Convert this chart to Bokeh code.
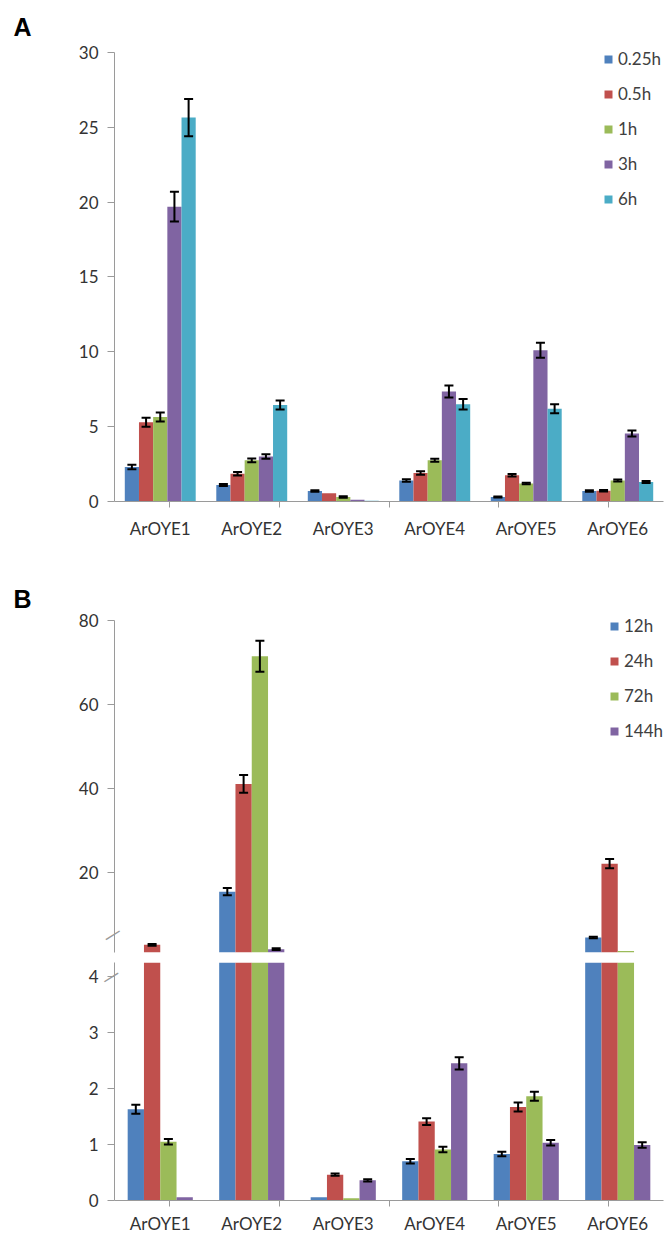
import math
from bokeh.plotting import figure
from bokeh.models import (Range1d, FactorRange, CategoricalAxis, LinearAxis, FixedTicker,
                          ColumnDataSource, Whisker, TeeHead)
from bokeh.transform import dodge
from bokeh.layouts import column
from bokeh.embed import file_html
from bokeh.resources import INLINE

NaN = float("nan")

genes = ["ArOYE1", "ArOYE2", "ArOYE3", "ArOYE4", "ArOYE5", "ArOYE6"]

# ---------------- Panel A ----------------
a_labels = ["0.25h", "0.5h", "1h", "3h", "6h"]
a_025h = [2.3, 1.1, 0.7, 1.4, 0.3, 0.7]
a_025h_err = [0.15, 0.07, 0.05, 0.08, 0.03, 0.05]
a_05h = [5.3, 1.85, 0.55, 1.9, 1.75, 0.72]
a_05h_err = [0.3, 0.12, NaN, 0.12, 0.08, 0.05]
a_1h = [5.65, 2.75, 0.3, 2.75, 1.2, 1.4]
a_1h_err = [0.3, 0.12, 0.05, 0.1, 0.05, 0.07]
a_3h = [19.7, 3.0, 0.12, 7.35, 10.1, 4.55]
a_3h_err = [1.0, 0.15, NaN, 0.4, 0.5, 0.2]
a_6h = [25.65, 6.45, 0.05, 6.5, 6.2, 1.3]
a_6h_err = [1.24, 0.3, NaN, 0.35, 0.3, 0.07]
a_ticks = [0, 5, 10, 15, 20, 25, 30]
A_MAX = 30

# ---------------- Panel B ----------------
b_labels = ["12h", "24h", "72h", "144h"]
# lower segment (0 - 4.25 axis); NaN where the bar is broken (shown in upper segment)
b_12h_low = [1.63, NaN, 0.06, 0.70, 0.83, NaN]
b_12h_low_err = [0.08, NaN, NaN, 0.04, 0.04, NaN]
b_24h_low = [NaN, NaN, 0.46, 1.41, 1.67, NaN]
b_24h_low_err = [NaN, NaN, 0.02, 0.06, 0.08, NaN]
b_72h_low = [1.05, NaN, 0.04, 0.91, 1.86, NaN]
b_72h_low_err = [0.05, NaN, NaN, 0.05, 0.08, NaN]
b_144h_low = [0.06, NaN, 0.36, 2.45, 1.03, 0.99]
b_144h_low_err = [NaN, NaN, 0.02, 0.11, 0.05, 0.05]
# upper segment (20 - 80 axis) values of the broken bars
b_12h_up = [NaN, 15.45, NaN, NaN, NaN, 4.54]
b_12h_up_err = [NaN, 0.85, NaN, NaN, NaN, 0.2]
b_24h_up = [2.8, 41.1, NaN, NaN, NaN, 22.1]
b_24h_up_err = [0.2, 2.1, NaN, NaN, NaN, 1.1]
b_72h_up = [NaN, 71.5, NaN, NaN, NaN, 1.35]
b_72h_up_err = [NaN, 3.7, NaN, NaN, NaN, NaN]
b_144h_up = [NaN, 1.76, NaN, NaN, NaN, NaN]
b_144h_up_err = [NaN, 0.2, NaN, NaN, NaN, NaN]
b_low_ticks = [0, 1, 2, 3, 4]
b_up_ticks = [20, 40, 60, 80]
B_UP_MAX = 80
B_LOW_MAX = 4.25
B_UP_MIN = 0.97

COLORS = ["#4F81BD", "#C0504D", "#9BBB59", "#8064A2", "#4BACC6"]
FONT = "Lato"
AX = "#9a9a9a"
TXT = "#333333"


def make_fig(y0, y1, fh, top, bottom, bounds, ticks, title=""):
    p = figure(x_range=FactorRange(*genes), y_range=Range1d(y0, y1),
               frame_width=549, frame_height=fh,
               min_border_left=114, min_border_right=5,
               min_border_top=top, min_border_bottom=bottom,
               x_axis_location=None, output_backend="svg", toolbar_location=None,
               title=title)
    p.outline_line_color = None
    p.xgrid.visible = False
    p.ygrid.visible = False
    p.background_fill_color = "white"
    p.border_fill_color = "white"
    p.title.align = "left"
    p.title.offset = -101
    p.title.standoff = 0
    p.title.text_font = "Liberation Sans"
    p.title.text_font_style = "bold"
    p.title.text_font_size = "25px"
    p.title.text_color = "black"
    ya = p.yaxis[0]
    ya.bounds = bounds
    ya.ticker = FixedTicker(ticks=ticks)
    ya.axis_line_color = AX
    ya.major_tick_line_color = AX
    ya.major_tick_out = 7
    ya.major_tick_in = 0
    ya.minor_tick_line_color = None
    ya.major_label_standoff = 9
    ya.major_label_text_font = FONT
    ya.major_label_text_font_size = "17px"
    ya.major_label_text_color = TXT
    return p


def add_xaxes(p, standoff):
    # boundary ticks: hidden-label factor axis whose factor centres sit on the
    # category boundaries
    bounds = ["b%d" % i for i in range(len(genes) + 1)]
    p.extra_x_ranges = {"bounds": FactorRange(*bounds, range_padding=-1,
                                              range_padding_units="absolute")}
    t_axis = CategoricalAxis(x_range_name="bounds",
                             major_label_text_font_size="0px", major_label_standoff=0,
                             major_tick_out=6, major_tick_in=0,
                             axis_line_color=AX, major_tick_line_color=AX)
    p.add_layout(t_axis, "below")
    c_axis = CategoricalAxis(axis_line_color=None, major_tick_line_color=None,
                             major_label_standoff=standoff,
                             major_label_text_font=FONT,
                             major_label_text_font_size="17px",
                             major_label_text_color=TXT)
    p.add_layout(c_axis, "below")


def add_break_mark(p, v, angle, standoff):
    # a single slanted dash drawn as the only label of an extra, line-less axis
    ax = LinearAxis(ticker=FixedTicker(ticks=[v]), axis_line_color=None,
                    major_tick_line_color=None, minor_tick_line_color=None,
                    major_tick_out=0, major_tick_in=0,
                    major_label_standoff=standoff, major_label_orientation=angle,
                    major_label_text_font="DejaVu Sans",
                    major_label_text_font_size="18px",
                    major_label_text_color=AX,
                    major_label_overrides={v: "\u2014"})
    p.add_layout(ax, "left")


def add_series(p, vals, errs, color, label, off, width, legend=True):
    src = ColumnDataSource(dict(cat=genes, top=vals))
    kw = dict(legend_label=label) if legend else {}
    p.vbar(x=dodge("cat", off, range=p.x_range), top="top", width=width, source=src,
           fill_color=color, line_color=None, **kw)
    rows = [(c, v, e) for c, v, e in zip(genes, vals, errs)
            if not math.isnan(v) and not math.isnan(e)]
    if rows:
        esrc = ColumnDataSource(dict(cat=[r[0] for r in rows],
                                     lo=[r[1] - r[2] for r in rows],
                                     hi=[r[1] + r[2] for r in rows]))
        w = Whisker(source=esrc, base=dodge("cat", off, range=p.x_range),
                    lower="lo", upper="hi", dimension="height",
                    line_color="black", line_width=2, level="annotation",
                    upper_head=TeeHead(size=9, line_width=2, line_color="black"),
                    lower_head=TeeHead(size=9, line_width=2, line_color="black"))
        p.add_layout(w)


def style_legend(p, x, y, spacing):
    lg = p.legend[0]
    lg.location = (x, y)
    lg.padding = 0
    lg.margin = 0
    lg.spacing = spacing
    lg.glyph_width = 10
    lg.glyph_height = 10
    lg.label_height = 20
    lg.label_standoff = 5
    lg.border_line_color = None
    lg.background_fill_alpha = 0
    lg.label_text_font = FONT
    lg.label_text_font_size = "17px"
    lg.label_text_color = "#404040"


# ---------- Figure A ----------
pA = make_fig(0, 30.8, 461, 40, 66, (0, A_MAX), a_ticks, title="A")
add_xaxes(pA, 4)
a_w = 0.155
a_series = [(a_025h, a_025h_err), (a_05h, a_05h_err), (a_1h, a_1h_err),
            (a_3h, a_3h_err), (a_6h, a_6h_err)]
for i, (vals, errs) in enumerate(a_series):
    add_series(pA, vals, errs, COLORS[i], a_labels[i], (i - 2) * a_w, a_w)
style_legend(pA, 489, 292, 14)

# ---------- Figure B (upper segment) ----------
b_w = 0.178
pBu = make_fig(B_UP_MIN, 81.9, 340, 45, 4, (B_UP_MIN, B_UP_MAX), b_up_ticks, title="B")
b_up = [(b_12h_up, b_12h_up_err), (b_24h_up, b_24h_up_err),
        (b_72h_up, b_72h_up_err), (b_144h_up, b_144h_up_err)]
for i, (vals, errs) in enumerate(b_up):
    add_series(pBu, vals, errs, COLORS[i], b_labels[i], (i - 1.5) * b_w, b_w)
style_legend(pBu, 495, 211, 14)
add_break_mark(pBu, 2.3, 0.56, -44)

# ---------- Figure B (lower segment) ----------
pBl = make_fig(0, B_LOW_MAX, 238, 6, 34, (0, B_LOW_MAX), b_low_ticks)
add_xaxes(pBl, 0)
b_low = [(b_12h_low, b_12h_low_err, b_12h_up), (b_24h_low, b_24h_low_err, b_24h_up),
         (b_72h_low, b_72h_low_err, b_72h_up), (b_144h_low, b_144h_low_err, b_144h_up)]
for i, (vals, errs, ups) in enumerate(b_low):
    # broken bars fill the lower segment up to the break
    shown = [B_LOW_MAX if not math.isnan(u) else v for v, u in zip(vals, ups)]
    add_series(pBl, shown, errs, COLORS[i], b_labels[i], (i - 1.5) * b_w, b_w, legend=False)
add_break_mark(pBl, 4.18, 0.56 + math.pi, -19)

layout = column(pA, pBu, pBl, spacing=0)
open("out.html", "w").write(file_html(layout, INLINE))
